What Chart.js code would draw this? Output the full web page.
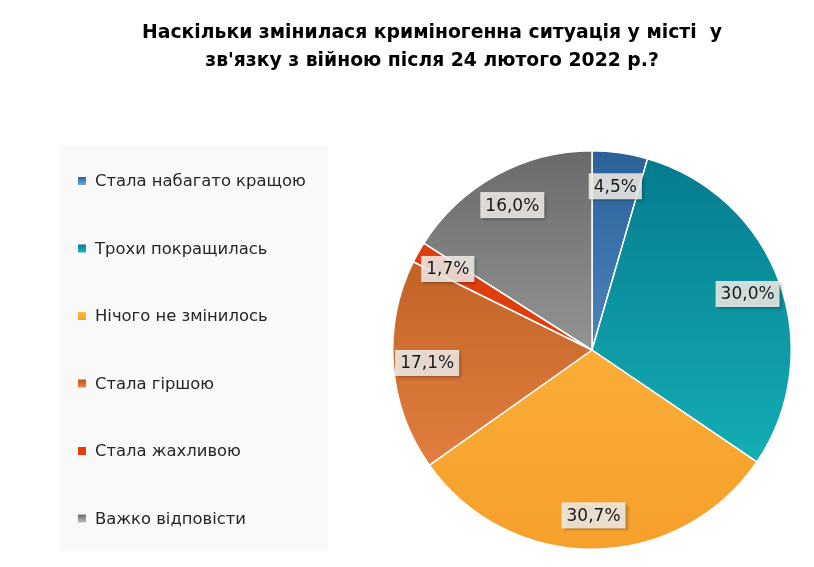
<!DOCTYPE html>
<html>
<head>
<meta charset="utf-8">
<script src="https://cdn.jsdelivr.net/npm/chart.js@4.4.1/dist/chart.umd.min.js"></script>
<style>
  html, body { margin: 0; padding: 0; background: #fff; }
  #wrap { position: relative; width: 814px; height: 567px; }
</style>
</head>
<body>
<div id="wrap"><canvas id="pie" width="814" height="567"></canvas></div>
<script>
const TITLE_LINES = ["Наскільки змінилася криміногенна ситуація у місті  у", "зв'язку з війною після 24 лютого 2022 р.?"];
const LABELS = ["Стала набагато кращою", "Трохи покращилась", "Нічого не змінилось", "Стала гіршою", "Стала жахливою", "Важко відповісти"];
const VALUES = [4.5, 30.0, 30.7, 17.1, 1.7, 16.0];
// dark / light ends of each slice gradient
const COLORS_DARK = ["#2a6199", "#057a8c", "#fcbb42", "#b2531b", "#d8400f", "#6a6a6a"];
const COLORS_LIGHT = ["#6ea9dd", "#19bcc2", "#f7a02c", "#ee8a48", "#e83c0a", "#bdbdbd"];

const FONT = "'DejaVu Sans', sans-serif";

function sliceColor(ctx) {
  const chart = ctx.chart;
  const area = chart.chartArea;
  if (!area) return COLORS_DARK[ctx.dataIndex];
  const g = chart.ctx.createLinearGradient(0, area.top, 0, area.bottom);
  g.addColorStop(0, COLORS_DARK[ctx.dataIndex]);
  g.addColorStop(1, COLORS_LIGHT[ctx.dataIndex]);
  return g;
}

// title + legend panel + value boxes
const decorPlugin = {
  id: "decor",
  beforeDraw(chart) {
    const c = chart.ctx;
    c.save();
    c.fillStyle = "#f9f9f9";
    c.fillRect(60, 146, 268, 405);
    c.fillStyle = "#000";
    c.font = "bold 18.8px " + FONT;
    c.textAlign = "center";
    c.textBaseline = "middle";
    TITLE_LINES.forEach((t, i) => c.fillText(t, 432, 33 + i * 28));

    c.textAlign = "left";
    c.font = "16.4px " + FONT;
    LABELS.forEach((lab, i) => {
      const y = 181 + i * 67.5;
      const g = c.createLinearGradient(0, y - 4, 0, y + 4);
      g.addColorStop(0, COLORS_DARK[i]);
      g.addColorStop(1, COLORS_LIGHT[i]);
      c.fillStyle = g;
      c.fillRect(78, y - 4, 8, 8);
      c.fillStyle = "#262626";
      c.fillText(lab, 95, y + 1);
    });
    c.restore();
  },
  afterDatasetsDraw(chart) {
    const c = chart.ctx;
    const meta = chart.getDatasetMeta(0);
    c.save();
    c.font = "17px " + FONT;
    c.textAlign = "center";
    c.textBaseline = "middle";
    meta.data.forEach((arc, i) => {
      const mid = (arc.startAngle + arc.endAngle) / 2;
      const r = arc.outerRadius * 0.83;
      const x = arc.x + Math.cos(mid) * r;
      const y = arc.y + Math.sin(mid) * r;
      const txt = VALUES[i].toFixed(1).replace(".", ",") + "%";
      const w = c.measureText(txt).width + 10;
      const h = 26;
      c.shadowColor = "rgba(0,0,0,0.35)";
      c.shadowBlur = 3;
      c.shadowOffsetX = 2;
      c.shadowOffsetY = 2;
      c.fillStyle = "rgba(245,240,235,0.85)";
      c.fillRect(x - w / 2, y - h / 2, w, h);
      c.shadowColor = "transparent";
      c.fillStyle = "#1a1a1a";
      c.fillText(txt, x, y + 1);
    });
    c.restore();
  }
};

new Chart(document.getElementById("pie"), {
  type: "pie",
  data: {
    labels: LABELS,
    datasets: [{
      data: VALUES,
      backgroundColor: sliceColor,
      borderColor: "#ffffff",
      borderWidth: 1.5
    }]
  },
  options: {
    responsive: false,
    animation: false,
    layout: { padding: { left: 392, right: 22, top: 150, bottom: 17 } },
    plugins: {
      legend: { display: false },
      tooltip: { enabled: false }
    }
  },
  plugins: [decorPlugin]
});
</script>
</body>
</html>
